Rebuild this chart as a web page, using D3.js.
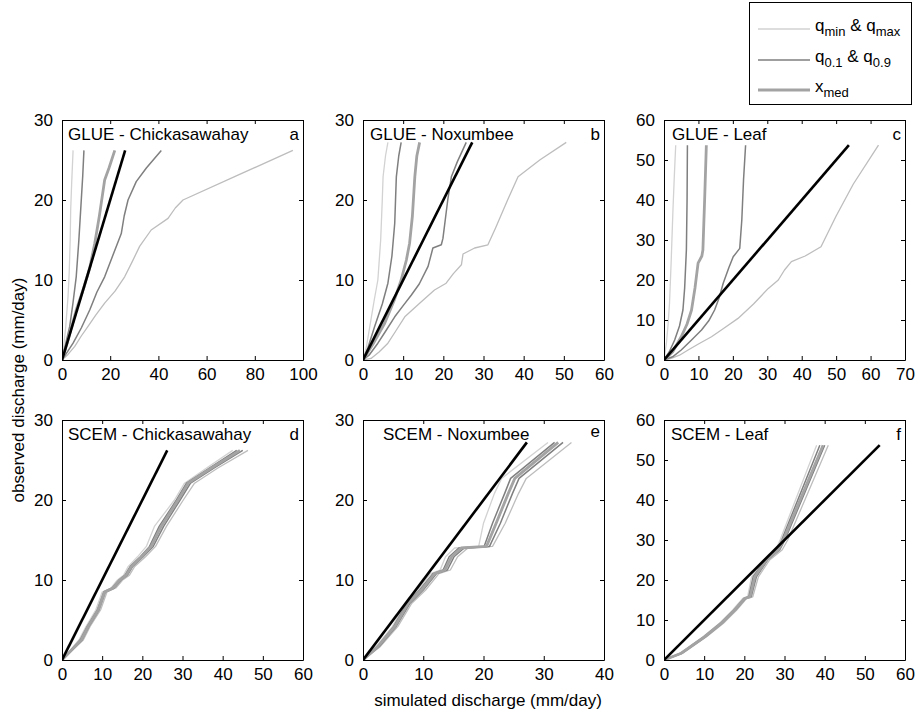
<!DOCTYPE html>
<html>
<head>
<meta charset="utf-8">
<script src="https://cdn.jsdelivr.net/npm/d3@7/dist/d3.min.js"></script>
<style>
  html, body { margin: 0; padding: 0; background: #fff; }
  svg { display: block; font-family: "Liberation Sans", Arial, Helvetica, sans-serif; }
</style>
</head>
<body>
<svg id="chart" width="915" height="718"></svg>
<script>
// ---- panels ----
const panelIds   = ["a", "b", "c", "d", "e", "f"];
const panelNames = ["GLUE - Chickasawahay", "GLUE - Noxumbee", "GLUE - Leaf",
                    "SCEM - Chickasawahay", "SCEM - Noxumbee", "SCEM - Leaf"];
const xMax   = [100, 60, 70, 60, 40, 60];
const yMax   = [30, 30, 60, 30, 30, 60];
const xTicks = [[0,20,40,60,80,100], [0,10,20,30,40,50,60], [0,10,20,30,40,50,60,70],
                [0,10,20,30,40,50,60], [0,10,20,30,40], [0,10,20,30,40,50,60]];
const yTicks = [[0,10,20,30], [0,10,20,30], [0,10,20,30,40,50,60],
                [0,10,20,30], [0,10,20,30], [0,10,20,30,40,50,60]];
// largest observed discharge per panel (end of the 1:1 line)
const obsMax = [26.2, 27.2, 53.7, 26.2, 27.2, 53.7];

// ---- GLUE quantile-quantile curves: [simulated, observed] ----
const glueA = {
  qmin: [[0,0],[0.8,2],[1.5,4],[2.5,7.9],[3.0,11],[3.4,15],[3.6,18.75],[4.0,22],[4.6,26.2]],
  q01:  [[0,0],[1.5,2],[3.2,4.2],[4.5,7],[5.9,10.4],[7.0,15],[8.0,20],[8.6,23],[9.1,26.2]],
  xmed: [[0,0],[2.5,2.5],[5.9,6.25],[9,9],[11.5,11.5],[13.6,14.6],[15.5,18],[17.7,22.5],[19.5,24],[21.9,26.2]],
  q09:  [[0,0],[4.6,2.1],[8,4],[11.5,6.25],[14.5,8.5],[17.7,10.4],[21,13],[24.6,15.8],[25.8,18],[27.4,20],[30.8,22.3],[35,24],[41.2,26.2]],
  qmax: [[0,0],[2.5,0.7],[5.3,1.7],[8,3],[10.8,4.2],[14,5.6],[17.7,7.1],[22,8.6],[26,10.4],[29,12.2],[32.2,14.2],[37,16.25],[44,17.7],[47,19],[50.2,20],[73,23.1],[95.8,26.2]]
};
const glueB = {
  qmin: [[0,0],[0.8,1.5],[1.7,4.2],[2.8,7.5],[3.7,10],[4.4,15],[4.8,20],[5.0,22.9],[5.6,25.5],[6.2,27.2]],
  q01:  [[0,0],[1.2,1.5],[2.9,4.2],[4.8,7],[6.2,9.6],[7.2,13],[7.9,17.1],[8.1,20],[8.3,22.9],[8.9,25.5],[9.5,27.2]],
  xmed: [[0,0],[2.5,2],[5.4,4.6],[7.8,7.5],[9.5,10],[10.8,12.5],[11.6,14.6],[12.3,18],[12.9,22.9],[13.4,25.5],[14.1,27.2]],
  q09:  [[0,0],[1.5,0.6],[3.7,2.1],[5.5,3.5],[7.9,5.4],[10,6.8],[12,8.1],[14,9.5],[16.2,11.7],[17.4,14],[19.5,14.4],[19.9,15.2],[20.6,18],[21.1,20],[22,22.9],[23.5,24.8],[25.7,27.2]],
  qmax: [[0,0],[2,0.2],[4,1],[6.2,2.1],[8,3.5],[10.4,5.4],[14.1,7.1],[17.8,8.75],[20.7,9.6],[22.5,10.8],[24.5,11.9],[24.9,13.25],[27.8,14],[31.1,14.4],[33,16.5],[36,20],[38.6,22.9],[44,25],[50.6,27.2]]
};
const glueC = {
  qmin: [[0,0],[0.7,4.2],[1.2,9],[1.6,14.2],[2.1,25],[2.6,37.5],[3.0,46],[3.4,53.7]],
  q01:  [[0,0],[1.5,2],[3.1,5],[4.5,8.5],[5.5,12.5],[6.0,18],[6.5,27.5],[6.7,40],[6.8,53.7]],
  xmed: [[0,0],[2.5,2],[5,5.8],[6.7,9],[8.0,12.5],[9.0,18],[9.9,24.2],[11.0,26],[11.3,27.5],[11.8,40],[12.3,53.7]],
  q09:  [[0,0],[2.5,0.8],[5,2.5],[8,5],[10.9,7.5],[13,9.8],[14.7,12.5],[16,15.5],[17.2,19.2],[18.8,23],[20.1,25.8],[22,27.9],[22.6,35],[23.1,45],[23.7,53.7]],
  qmax: [[0,0],[2.1,0.4],[4.5,1.2],[7,2.5],[10,4],[13.8,5.8],[17.5,8],[21.5,10.4],[26,14],[30.3,17.9],[33.2,20],[35,22.5],[37,24.6],[41,26],[45.6,28.3],[50,36],[55,44],[62.3,53.7]]
};

// ---- SCEM curves: simulated quantiles at shared observed quantiles ----
const scemD_obs  = [0, 2.5, 4.2, 6.25, 8.5, 9, 10, 10.6, 11.7, 12.9, 14.2, 16.7, 20, 22.1, 24, 26.2];
const scemD_qmin = [0, 4.2, 6.0, 8.4, 10.0, 12.2, 13.8, 15.3, 16.5, 18.8, 21.0, 23.0, 28.0, 30.5, 36.0, 42.5];
const scemD_q01  = [0, 4.5, 6.3, 8.8, 10.4, 12.5, 14.2, 15.7, 17.0, 19.5, 21.8, 24.2, 28.5, 31.0, 36.7, 43.5];
const scemD_xmed = [0, 4.8, 6.5, 9.0, 10.6, 12.7, 14.4, 16.0, 17.3, 19.8, 22.2, 24.7, 28.9, 31.4, 37.2, 44.3];
const scemD_q09  = [0, 5.0, 6.7, 9.2, 10.8, 13.0, 14.7, 16.3, 17.6, 20.2, 22.7, 25.3, 29.4, 32.0, 37.8, 45.0];
const scemD_qmax = [0, 5.3, 7.0, 9.6, 11.2, 13.4, 15.1, 16.8, 18.1, 20.8, 23.3, 26.0, 30.2, 33.0, 38.8, 46.3];

const scemE_obs  = [0, 1.7, 4.2, 7.1, 8.75, 10.8, 11.25, 12.9, 14, 14.2, 17.1, 20.8, 22.7, 27.2];
const scemE_qmin = [0, 2.2, 4.9, 7.0, 9.1, 11.2, 12.8, 13.7, 15.2, 19.2, 20.0, 21.8, 23.0, 30.7];
const scemE_q01  = [0, 2.4, 5.1, 7.3, 9.4, 11.6, 13.3, 14.3, 15.9, 20.1, 21.5, 23.5, 24.5, 31.8];
const scemE_xmed = [0, 2.5, 5.3, 7.5, 9.7, 11.9, 13.6, 14.7, 16.3, 20.5, 22.1, 24.1, 25.2, 32.4];
const scemE_q09  = [0, 2.7, 5.5, 7.8, 10.0, 12.2, 14.0, 15.1, 16.8, 21.0, 22.8, 24.8, 25.9, 33.2];
const scemE_qmax = [0, 2.9, 5.8, 8.1, 10.4, 12.6, 14.5, 15.7, 17.4, 21.5, 23.6, 25.8, 27.1, 34.6];

const scemF_obs  = [0, 1.7, 5.8, 9.2, 12.5, 15.4, 15.8, 20.8, 25, 27.5, 30, 53.7];
const scemF_qmin = [0, 4.0, 9.7, 13.8, 17.1, 19.6, 20.8, 21.8, 24.8, 27.8, 28.9, 38.0];
const scemF_q01  = [0, 4.2, 9.9, 14.1, 17.4, 19.9, 21.1, 22.2, 25.2, 28.1, 29.3, 38.8];
const scemF_xmed = [0, 4.3, 10.1, 14.3, 17.6, 20.1, 21.4, 22.6, 25.5, 28.4, 29.7, 39.6];
const scemF_q09  = [0, 4.5, 10.3, 14.5, 17.8, 20.3, 21.7, 23.0, 25.8, 28.8, 30.1, 40.0];
const scemF_qmax = [0, 4.7, 10.6, 14.8, 18.1, 20.6, 22.1, 23.5, 26.3, 29.4, 30.8, 40.9];

const zipQ = (sim, obs) => sim.map((s, i) => [s, obs[i]]);
const scemD = { qmin: zipQ(scemD_qmin, scemD_obs), q01: zipQ(scemD_q01, scemD_obs), xmed: zipQ(scemD_xmed, scemD_obs), q09: zipQ(scemD_q09, scemD_obs), qmax: zipQ(scemD_qmax, scemD_obs) };
const scemE = { qmin: zipQ(scemE_qmin, scemE_obs), q01: zipQ(scemE_q01, scemE_obs), xmed: zipQ(scemE_xmed, scemE_obs), q09: zipQ(scemE_q09, scemE_obs), qmax: zipQ(scemE_qmax, scemE_obs) };
const scemF = { qmin: zipQ(scemF_qmin, scemF_obs), q01: zipQ(scemF_q01, scemF_obs), xmed: zipQ(scemF_xmed, scemF_obs), q09: zipQ(scemF_q09, scemF_obs), qmax: zipQ(scemF_qmax, scemF_obs) };
const panelCurves = [glueA, glueB, glueC, scemD, scemE, scemF];

// ---- line styles ----
const drawOrder = ["qmin", "qmax", "q01", "q09", "xmed"];
const styles = {
  qmin: { color: "#d2d2d2", width: 1.3 },
  qmax: { color: "#bdbdbd", width: 1.3 },
  q01:  { color: "#7f7f7f", width: 1.5 },
  q09:  { color: "#7f7f7f", width: 1.5 },
  xmed: { color: "#a3a3a3", width: 2.8 }
};

// ---- layout ----
const colX = [62, 363, 664];
const rowY = [120, 420];
const pw = 241, ph = 240;
const titleDx = [6, 7, 8, 6, 20, 7];
const fontSize = 17;

const svg = d3.select("#chart");

panelIds.forEach((id, i) => {
  const x0 = colX[i % 3], y0 = rowY[Math.floor(i / 3)];
  const g = svg.append("g").attr("transform", `translate(${x0},${y0})`);
  const x = d3.scaleLinear().domain([0, xMax[i]]).range([0, pw]);
  const y = d3.scaleLinear().domain([0, yMax[i]]).range([ph, 0]);

  // clip so curves stay inside the box
  g.append("clipPath").attr("id", "clip" + id)
    .append("rect").attr("width", pw).attr("height", ph);

  const line = d3.line().x(d => x(d[0])).y(d => y(d[1]));
  const plot = g.append("g").attr("clip-path", `url(#clip${id})`);
  drawOrder.forEach(k => {
    plot.append("path")
      .datum(panelCurves[i][k])
      .attr("fill", "none")
      .attr("stroke", styles[k].color)
      .attr("stroke-width", styles[k].width)
      .attr("stroke-linejoin", "round")
      .attr("d", line);
  });
  // 1:1 line
  plot.append("path")
    .datum([[0, 0], [obsMax[i], obsMax[i]]])
    .attr("fill", "none").attr("stroke", "#000").attr("stroke-width", 2.6)
    .attr("d", line);

  // axes with inward ticks on all four sides
  const styleAxis = sel => {
    sel.select(".domain").attr("stroke", "#000").attr("stroke-width", 1);
    sel.selectAll(".tick line").attr("stroke", "#000");
    sel.selectAll("text").attr("font-size", fontSize).attr("fill", "#000")
      .attr("font-family", "'Liberation Sans', Arial, sans-serif");
  };
  g.append("g").attr("transform", `translate(0,${ph})`)
    .call(d3.axisBottom(x).tickValues(xTicks[i]).tickSizeInner(-4).tickSizeOuter(0).tickPadding(8))
    .call(styleAxis);
  g.append("g")
    .call(d3.axisTop(x).tickValues(xTicks[i]).tickSizeInner(-4).tickSizeOuter(0).tickFormat(""))
    .call(styleAxis);
  g.append("g")
    .call(d3.axisLeft(y).tickValues(yTicks[i]).tickSizeInner(-4).tickSizeOuter(0).tickPadding(9))
    .call(styleAxis);
  g.append("g").attr("transform", `translate(${pw},0)`)
    .call(d3.axisRight(y).tickValues(yTicks[i]).tickSizeInner(-4).tickSizeOuter(0).tickFormat(""))
    .call(styleAxis);

  // titles
  g.append("text").attr("x", titleDx[i]).attr("y", 20)
    .attr("font-size", fontSize).text(panelNames[i]);
  g.append("text").attr("x", pw - 4).attr("y", id === "e" ? 17 : 20)
    .attr("text-anchor", "end").attr("font-size", fontSize).text(id);
});

// axis titles
svg.append("text").attr("x", 488).attr("y", 706).attr("text-anchor", "middle")
  .attr("font-size", fontSize).text("simulated discharge (mm/day)");
svg.append("text").attr("transform", "translate(24,390) rotate(-90)")
  .attr("text-anchor", "middle").attr("font-size", fontSize)
  .text("observed discharge (mm/day)");

// legend
const legendKeys = ["qmin", "q01", "xmed"];
const legendLabels = [
  [["q", ""], ["min", "sub"], [" & q", ""], ["max", "sub"]],
  [["q", ""], ["0.1", "sub"], [" & q", ""], ["0.9", "sub"]],
  [["x", ""], ["med", "sub"]]
];
const legend = svg.append("g");
legend.append("rect").attr("x", 749.5).attr("y", 2.5).attr("width", 162).attr("height", 102)
  .attr("fill", "#fff").attr("stroke", "#000").attr("stroke-width", 1);
const rowsY = [29, 60, 90];
legendKeys.forEach((k, j) => {
  legend.append("line").attr("x1", 758).attr("x2", 810).attr("y1", rowsY[j]).attr("y2", rowsY[j])
    .attr("stroke", styles[k].color).attr("stroke-width", styles[k].width);
  const t = legend.append("text").attr("x", 815).attr("y", rowsY[j] + 2).attr("font-size", fontSize);
  legendLabels[j].forEach(([s, kind]) => {
    const ts = t.append("tspan").text(s);
    if (kind === "sub") ts.attr("font-size", 13).attr("dy", 5);
    else ts.attr("dy", t.selectAll("tspan").size() > 1 ? -5 : 0);
  });
});
</script>
</body>
</html>
